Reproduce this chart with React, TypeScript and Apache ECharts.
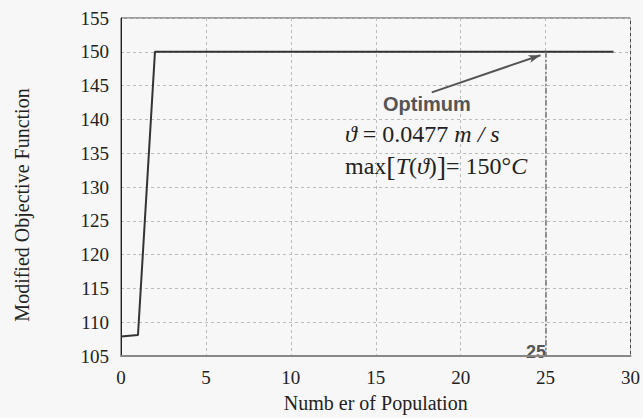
import React, { useEffect, useRef } from "react";
import * as echarts from "echarts";

const populations: number[] = Array.from({ length: 30 }, (_, i) => i);
const objectiveValues: number[] = [
  107.9, 108.1, 150, 150, 150, 150, 150, 150, 150, 150,
  150, 150, 150, 150, 150, 150, 150, 150, 150, 150,
  150, 150, 150, 150, 150, 150, 150, 150, 150, 150,
];
const optimumX = 25;
const optimumY = 150;
const arrowStart: [number, number] = [18.3, 144];
const arrowEnd: [number, number] = [24.7, 149.5];

const serif = "serif";
const sans = "'Liberation Sans', Arial, sans-serif";

export default function App() {
  const ref = useRef<HTMLDivElement>(null);
  useEffect(() => {
    if (!ref.current) return;
    const chart = echarts.init(ref.current, undefined, { renderer: "svg" });
    chart.setOption({
      animation: false,
      backgroundColor: "#f7f7f7",
      textStyle: { fontFamily: serif },
      grid: {
        left: 121,
        right: 11,
        top: 18,
        bottom: 55,
        show: true,
        borderColor: "#444",
        borderWidth: 1,
        backgroundColor: "transparent",
      },
      xAxis: {
        type: "value",
        min: 0,
        max: 30,
        interval: 5,
        name: "Numb er of Population",
        nameLocation: "middle",
        nameGap: 37,
        nameTextStyle: { fontFamily: serif, fontSize: 20, color: "#222" },
        axisLine: { show: true, lineStyle: { color: "#888", width: 2 } },
        axisTick: { show: false },
        axisLabel: { fontFamily: serif, fontSize: 19, color: "#222", margin: 12 },
        splitLine: { show: true, lineStyle: { color: "#bbb", type: [3, 3], width: 1 } },
      },
      yAxis: {
        type: "value",
        min: 105,
        max: 155,
        interval: 5,
        axisLine: { show: true, lineStyle: { color: "#222", width: 1 } },
        axisTick: { show: false },
        axisLabel: { fontFamily: serif, fontSize: 19, color: "#222", margin: 12 },
        splitLine: { show: true, lineStyle: { color: "#bbb", type: [3, 3], width: 1 } },
      },
      series: [
        {
          type: "line",
          data: populations.map((x, i) => [x, objectiveValues[i]]),
          symbol: "none",
          lineStyle: { color: "#333", width: 2 },
          markLine: {
            silent: true,
            animation: false,
            label: { show: false },
            data: [
              [
                { coord: [optimumX, optimumY], symbol: "none", lineStyle: { color: "#777", width: 1.5, type: [6, 2, 2, 2] } },
                { coord: [optimumX, 105], symbol: "none" },
              ],
              [
                { coord: arrowStart, symbol: "none", lineStyle: { color: "#555", width: 2, type: "solid" } },
                { coord: arrowEnd, symbol: "arrow", symbolSize: [6, 12] },
              ],
            ],
          },
        },
      ],
      graphic: [
        {
          type: "text",
          x: 22,
          y: 205,
          rotation: Math.PI / 2,
          style: {
            text: "Modified Objective Function",
            font: `20px ${serif}`,
            fill: "#222",
            align: "center",
            verticalAlign: "middle",
          },
        },
        {
          type: "text",
          x: 383,
          y: 104,
          style: { text: "Optimum", font: `bold 20px ${sans}`, fill: "#555", verticalAlign: "middle" },
        },
        {
          type: "text",
          x: 345,
          y: 134,
          style: {
            text: "{i|ϑ}{n| = 0.0477 }{i|m / s}",
            verticalAlign: "middle",
            rich: {
              i: { fontFamily: serif, fontSize: 24, fontStyle: "italic", fill: "#222" },
              n: { fontFamily: serif, fontSize: 24, fill: "#222" },
            },
          },
        },
        {
          type: "text",
          x: 345,
          y: 166,
          style: {
            text: "{n|max}{b|[}{i|T}{n|(}{i|ϑ}{n|)}{b|]}{n|= 150°}{i|C}",
            verticalAlign: "middle",
            rich: {
              i: { fontFamily: serif, fontSize: 24, fontStyle: "italic", fill: "#222" },
              n: { fontFamily: serif, fontSize: 24, fill: "#222" },
              b: { fontFamily: serif, fontSize: 28, fill: "#222" },
            },
          },
        },
        {
          type: "text",
          x: 526,
          y: 352,
          style: { text: "25", font: `bold 18px ${sans}`, fill: "#555", verticalAlign: "middle" },
        },
      ],
    });
    return () => chart.dispose();
  }, []);
  return <div ref={ref} style={{ width: 643, height: 418, position: "absolute", left: 0, top: 0 }} />;
}
